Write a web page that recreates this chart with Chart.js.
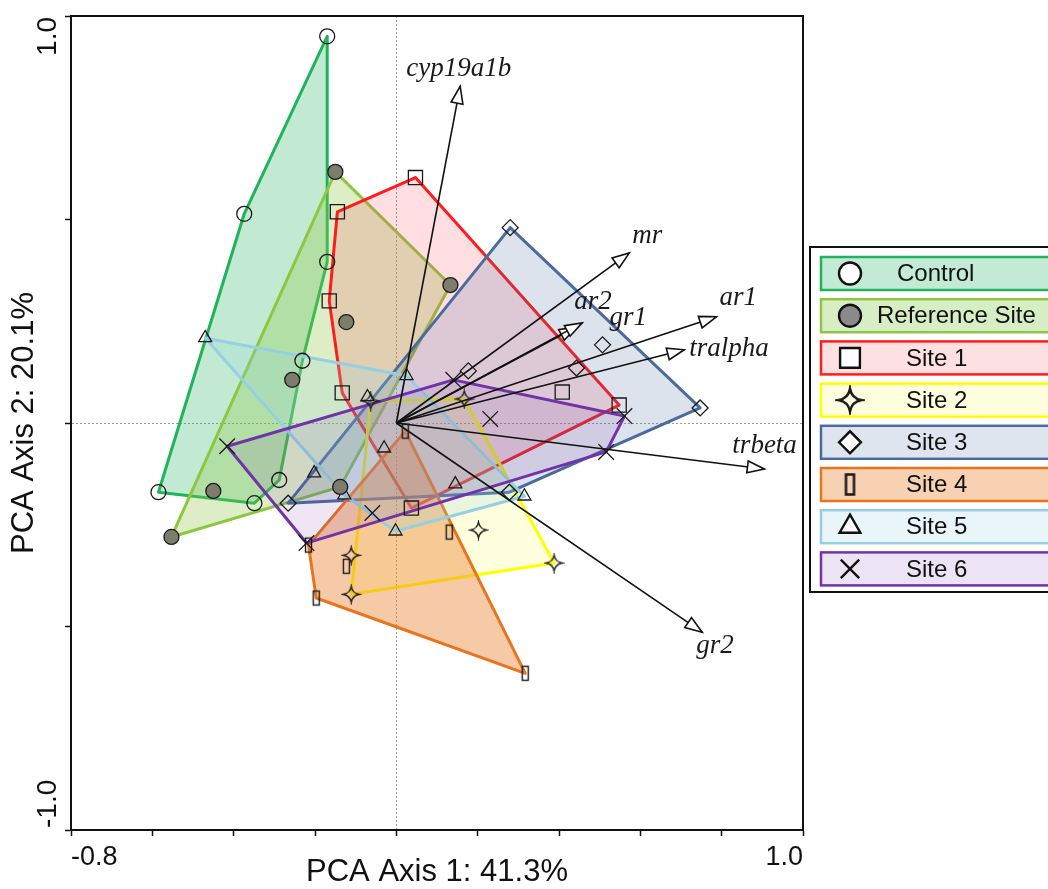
<!DOCTYPE html>
<html lang="en">
<head>
<meta charset="utf-8">
<title>PCA biplot</title>
<script src="https://cdn.jsdelivr.net/npm/chart.js@4.4.1/dist/chart.umd.min.js"></script>
<style>
  html, body { margin: 0; padding: 0; background: #fff; }
  #grafico { display: block; }
</style>
</head>
<body>
<canvas id="grafico" width="1048" height="889"></canvas>
<script>
const fuenteSans = "'Liberation Sans', Arial, Helvetica, sans-serif";
const fuenteSerif = "'Liberation Serif', 'Times New Roman', serif";

// Ejes
const limitesX = [-0.8, 1.0];
const limitesY = [-1.0, 1.0];
const pasoX = 0.2;
const pasoY = 0.5;
const etiquetasEjeX = ["-0.8", "1.0"];
const etiquetasEjeY = ["1.0", "-1.0"];
const tituloX = "PCA Axis 1: 41.3%";
const tituloY = "PCA Axis 2: 20.1%";

// Grupos (leyenda)
const grupos = ["Control", "Reference Site", "Site 1", "Site 2", "Site 3", "Site 4", "Site 5", "Site 6"];

// Puntuaciones de cada grupo + orden de los vertices del contorno
const controlX = [-0.170, -0.374, -0.585, -0.349, -0.288, -0.231, -0.170];
const controlY = [0.950, 0.514, -0.170, -0.197, -0.140, 0.153, 0.396];
const controlContorno = [0, 1, 2, 3, 4, 5, 6];

const referenciaX = [-0.150, 0.133, -0.123, -0.256, -0.450, -0.553, -0.138];
const referenciaY = [0.617, 0.339, 0.248, 0.106, -0.167, -0.280, -0.157];
const referenciaContorno = [0, 1, 6, 5];

const sitio1X = [0.047, -0.145, -0.165, -0.133, 0.037, 0.408, 0.548];
const sitio1Y = [0.603, 0.519, 0.300, 0.074, -0.209, 0.076, 0.044];
const sitio1Contorno = [0, 6, 4, 3, 2, 1];

const sitio2X = [-0.063, 0.167, 0.388, -0.111, -0.111, 0.202];
const sitio2Y = [0.054, 0.059, -0.344, -0.421, -0.325, -0.263];
const sitio2Contorno = [0, 1, 2, 3];

const sitio3X = [0.280, 0.747, 0.507, 0.443, 0.177, -0.266, 0.278];
const sitio3Y = [0.480, 0.037, 0.192, 0.135, 0.128, -0.197, -0.170];
const sitio3Contorno = [0, 1, 6, 5];

const sitio4X = [0.022, 0.317, -0.197, -0.216, -0.123, 0.130];
const sitio4Y = [-0.020, -0.615, -0.430, -0.300, -0.352, -0.268];
const sitio4Contorno = [0, 1, 2, 3];

const sitio5X = [-0.470, 0.025, 0.315, -0.002, -0.128, -0.202, -0.071, -0.030, 0.145];
const sitio5Y = [0.209, 0.116, -0.180, -0.266, -0.177, -0.123, 0.064, -0.062, -0.150];
const sitio5Contorno = [0, 1, 2, 3, 4];

const sitio6X = [-0.416, 0.140, 0.561, 0.516, -0.221, 0.231, -0.059];
const sitio6Y = [-0.057, 0.106, 0.017, -0.071, -0.295, 0.010, -0.221];
const sitio6Contorno = [0, 1, 2, 3, 4];

// Vectores de los genes (cargas)
const genes = ["cyp19a1b", "mr", "ar2", "gr1", "ar1", "tralpha", "trbeta", "gr2"];
const genesX = [0.157, 0.573, 0.457, 0.443, 0.787, 0.708, 0.905, 0.752];
const genesY = [0.827, 0.418, 0.246, 0.236, 0.261, 0.180, -0.113, -0.514];

const seriesX = [controlX, referenciaX, sitio1X, sitio2X, sitio3X, sitio4X, sitio5X, sitio6X];
const seriesY = [controlY, referenciaY, sitio1Y, sitio2Y, sitio3Y, sitio4Y, sitio5Y, sitio6Y];
const contornos = [controlContorno, referenciaContorno, sitio1Contorno, sitio2Contorno,
                   sitio3Contorno, sitio4Contorno, sitio5Contorno, sitio6Contorno];

// Estilos
const coloresBorde = ["#1fb35a", "#8dc641", "#ff1c1c", "#ffff00", "#4a6c9c", "#e8741e", "#96d0e0", "#7232a8"];
const coloresRelleno = [
    "rgba(31,179,90,0.27)", "rgba(141,198,65,0.30)", "rgba(255,60,85,0.17)", "rgba(255,255,0,0.13)",
    "rgba(74,108,156,0.19)", "rgba(235,128,45,0.42)", "rgba(150,208,224,0.22)", "rgba(114,50,168,0.12)",
];
const coloresLeyenda = ["#c3ead5", "#d7eec4", "#fde0e1", "#ffffe0", "#dfe5ee", "#f7d1b2", "#e9f5f9", "#ece4f4"];

// posicion de los nombres de los genes respecto a la punta (px)
const desplazEtiquetas = [[-54, -10], [3, -10], [-8, -14], [33, -2], [3, -12], [5, 6], [-32, -16], [-6, 21]];

// Simbolos a medida
function crearEstrella(r, grosor) {
    const t = Math.ceil(r * 2 + grosor * 2 + 2);
    const c = document.createElement("canvas");
    c.width = c.height = t;
    const g = c.getContext("2d");
    const m = t / 2;
    const k = r * 0.14;
    g.beginPath();
    g.moveTo(m, m - r);
    g.quadraticCurveTo(m + k, m - k, m + r, m);
    g.quadraticCurveTo(m + k, m + k, m, m + r);
    g.quadraticCurveTo(m - k, m + k, m - r, m);
    g.quadraticCurveTo(m - k, m - k, m, m - r);
    g.closePath();
    g.lineWidth = grosor;
    g.strokeStyle = "#1a1a1a";
    g.stroke();
    return c;
}

function crearRectangulo(an, al, grosor) {
    const c = document.createElement("canvas");
    c.width = Math.ceil(an + grosor * 2 + 2);
    c.height = Math.ceil(al + grosor * 2 + 2);
    const g = c.getContext("2d");
    g.lineWidth = grosor;
    g.strokeStyle = "#1a1a1a";
    g.strokeRect((c.width - an) / 2, (c.height - al) / 2, an, al);
    return c;
}

const simbolos = [
    { estilo: "circle", radio: 7.5, fondo: "rgba(0,0,0,0)" },
    { estilo: "circle", radio: 7.5, fondo: "#7d7d6c" },
    { estilo: "rect", radio: 10, fondo: "rgba(0,0,0,0)" },
    { estilo: crearEstrella(8, 1.4), radio: 6, fondo: "rgba(0,0,0,0)" },
    { estilo: "rectRot", radio: 8, fondo: "rgba(0,0,0,0)" },
    { estilo: crearRectangulo(6, 14, 1.4), radio: 6, fondo: "rgba(0,0,0,0)" },
    { estilo: "triangle", radio: 7.5, fondo: "rgba(0,0,0,0)" },
    { estilo: "crossRot", radio: 11, fondo: "rgba(0,0,0,0)" },
];
const simbolosLeyenda = [
    { estilo: "circle", radio: 11, fondo: "#ffffff" },
    { estilo: "circle", radio: 11, fondo: "#8a8a8a" },
    { estilo: "rect", radio: 14, fondo: "#ffffff" },
    { estilo: crearEstrella(11.5, 2.4), radio: 6, fondo: "#ffffff" },
    { estilo: "rectRot", radio: 11, fondo: "#ffffff" },
    { estilo: crearRectangulo(8, 20, 2.5), radio: 6, fondo: "#ffffff" },
    { estilo: "triangle", radio: 12, fondo: "#ffffff" },
    { estilo: "crossRot", radio: 13, fondo: "#ffffff" },
];
const textoLeyendaX = [897, 877, 906, 906, 906, 906, 906, 906];

// Construir datasets
const datasets = [];
grupos.forEach((nombre, g) => {
    const puntos = seriesX[g].map((x, i) => ({ x: x, y: seriesY[g][i] }));
    const contorno = contornos[g].map((i) => puntos[i]);
    contorno.push(puntos[contornos[g][0]]);
    datasets.push({
        type: "line",
        label: nombre + " contorno",
        data: contorno,
        borderColor: coloresBorde[g],
        backgroundColor: coloresRelleno[g],
        borderWidth: 3,
        borderJoinStyle: "round",
        borderCapStyle: "round",
        fill: "shape",
        tension: 0,
        pointRadius: 0,
        order: 20 - g,
    });
    datasets.push({
        type: "scatter",
        label: nombre,
        data: puntos,
        pointStyle: simbolos[g].estilo,
        pointRadius: simbolos[g].radio,
        pointBorderWidth: 1.3,
        pointBorderColor: "#1a1a1a",
        pointBackgroundColor: simbolos[g].fondo,
        order: 0,
    });
});
genes.forEach((gen, i) => {
    datasets.push({
        type: "line",
        label: gen,
        esFlecha: true,
        data: [{ x: 0, y: 0 }, { x: genesX[i], y: genesY[i] }],
        borderColor: "#111",
        borderWidth: 1.6,
        pointRadius: 0,
        fill: false,
        order: 1,
    });
});

// Punta de flecha abierta al final de cada vector
const puntasFlecha = {
    id: "puntasFlecha",
    afterDatasetDraw(chart, args) {
        const ds = chart.data.datasets[args.index];
        if (!ds.esFlecha) return;
        const [p0, p1] = args.meta.data;
        const dx = p1.x - p0.x, dy = p1.y - p0.y;
        const largo = Math.hypot(dx, dy);
        const ux = dx / largo, uy = dy / largo;
        const bx = p1.x - ux * 17, by = p1.y - uy * 17;
        const ctx = chart.ctx;
        ctx.save();
        ctx.beginPath();
        ctx.moveTo(p1.x, p1.y);
        ctx.lineTo(bx - uy * 6, by + ux * 6);
        ctx.lineTo(bx + uy * 6, by - ux * 6);
        ctx.closePath();
        ctx.fillStyle = "#ffffff";
        ctx.fill();
        ctx.lineWidth = 1.6;
        ctx.strokeStyle = "#111";
        ctx.stroke();
        ctx.restore();
    },
    afterDatasetsDraw(chart) {
        const ctx = chart.ctx;
        const { x, y } = chart.scales;
        ctx.save();
        ctx.font = "italic 27px " + fuenteSerif;
        ctx.fillStyle = "#1a1a1a";
        ctx.textAlign = "left";
        ctx.textBaseline = "alphabetic";
        genes.forEach((gen, i) => {
            const px = x.getPixelForValue(genesX[i]) + desplazEtiquetas[i][0];
            const py = y.getPixelForValue(genesY[i]) + desplazEtiquetas[i][1];
            ctx.fillText(gen, px, py);
        });
        ctx.restore();
    },
};

// Marco, etiquetas verticales del eje Y y leyenda
const marcoYLeyenda = {
    id: "marcoYLeyenda",
    afterDraw(chart) {
        const ctx = chart.ctx;
        const a = chart.chartArea;
        ctx.save();
        ctx.strokeStyle = "#111";
        ctx.lineWidth = 2;
        ctx.beginPath();
        ctx.moveTo(a.left, a.top);
        ctx.lineTo(a.right, a.top);
        ctx.lineTo(a.right, a.bottom);
        ctx.stroke();

        // etiquetas del eje Y giradas
        const ey = chart.scales.y;
        ctx.font = "28px " + fuenteSans;
        ctx.fillStyle = "#111";
        ctx.textBaseline = "alphabetic";
        ctx.save();
        ctx.translate(56, ey.getPixelForValue(limitesY[1]) + 1);
        ctx.rotate(-Math.PI / 2);
        ctx.textAlign = "right";
        ctx.fillText(etiquetasEjeY[0], 0, 0);
        ctx.restore();
        ctx.save();
        ctx.translate(56, ey.getPixelForValue(limitesY[0]) - 2);
        ctx.rotate(-Math.PI / 2);
        ctx.textAlign = "left";
        ctx.fillText(etiquetasEjeY[1], 0, 0);
        ctx.restore();

        // leyenda
        ctx.fillStyle = "#ffffff";
        ctx.fillRect(810, 247, 260, 345);
        ctx.lineWidth = 2;
        ctx.strokeStyle = "#111";
        ctx.strokeRect(810, 247, 260, 345);
        grupos.forEach((nombre, g) => {
            const cy = 273.5 + g * 42.2;
            ctx.fillStyle = coloresLeyenda[g];
            ctx.fillRect(821, cy - 16.5, 250, 33);
            ctx.lineWidth = 2.5;
            ctx.strokeStyle = coloresBorde[g];
            ctx.strokeRect(821, cy - 16.5, 250, 33);

            const s = simbolosLeyenda[g];
            ctx.save();
            ctx.lineWidth = 2.4;
            ctx.strokeStyle = "#111";
            ctx.fillStyle = s.fondo;
            if (Chart.helpers && Chart.helpers.drawPoint) {
                Chart.helpers.drawPoint(ctx, { pointStyle: s.estilo, radius: s.radio, borderWidth: 2.4, rotation: 0 }, 850, cy);
            } else {
                ctx.beginPath();
                ctx.arc(850, cy, 10, 0, Math.PI * 2);
                ctx.fill();
                ctx.stroke();
            }
            ctx.restore();

            ctx.fillStyle = "#111";
            ctx.font = "24px " + fuenteSans;
            ctx.textAlign = "left";
            ctx.textBaseline = "middle";
            ctx.fillText(nombre, textoLeyendaX[g], cy + 1);
        });
        ctx.restore();
    },
};

function esCero(ctx) {
    return ctx.tick && Math.abs(ctx.tick.value) < 1e-9;
}

let chart;

function inicializarGrafico() {
    const ctx = document.getElementById("grafico").getContext("2d");
    chart = new Chart(ctx, {
        type: "line",
        data: { datasets: datasets },
        options: {
            responsive: false,
            animation: false,
            events: [],
            devicePixelRatio: 1,
            layout: { padding: { left: 0, top: 16, right: 245, bottom: 0 } },
            plugins: {
                legend: { display: false },
                tooltip: { enabled: false },
            },
            scales: {
                x: {
                    type: "linear",
                    min: limitesX[0],
                    max: limitesX[1],
                    afterFit: (s) => { s.height = 59; },
                    ticks: {
                        stepSize: pasoX,
                        autoSkip: false,
                        maxRotation: 0,
                        align: "inner",
                        padding: 5,
                        color: "#111",
                        font: { family: fuenteSans, size: 27 },
                        callback: (v, i, t) => (i === 0 ? etiquetasEjeX[0] : (i === t.length - 1 ? etiquetasEjeX[1] : "")),
                    },
                    grid: {
                        color: (c) => (esCero(c) ? "#9a9a9a" : "rgba(0,0,0,0)"),
                        lineWidth: 1,
                        tickColor: "#111",
                        tickWidth: 1.5,
                        tickLength: 6,
                        tickBorderDash: [],
                    },
                    border: { display: true, color: "#111", width: 2, dash: [2, 2] },
                    title: {
                        display: true,
                        text: tituloX,
                        color: "#111",
                        font: { family: fuenteSans, size: 31 },
                        padding: { top: 0, bottom: -2 },
                    },
                },
                y: {
                    type: "linear",
                    min: limitesY[0],
                    max: limitesY[1],
                    afterFit: (s) => { s.width = 71; },
                    ticks: { stepSize: pasoY, display: false },
                    grid: {
                        color: (c) => (esCero(c) ? "#9a9a9a" : "rgba(0,0,0,0)"),
                        lineWidth: 1,
                        tickColor: "#111",
                        tickWidth: 1.5,
                        tickLength: 6,
                        tickBorderDash: [],
                    },
                    border: { display: true, color: "#111", width: 2, dash: [2, 2] },
                    title: {
                        display: true,
                        text: tituloY,
                        color: "#111",
                        font: { family: fuenteSans, size: 31 },
                        padding: { top: 6, bottom: 0 },
                    },
                },
            },
        },
        plugins: [puntasFlecha, marcoYLeyenda],
    });
}

window.onload = inicializarGrafico;
</script>
</body>
</html>
